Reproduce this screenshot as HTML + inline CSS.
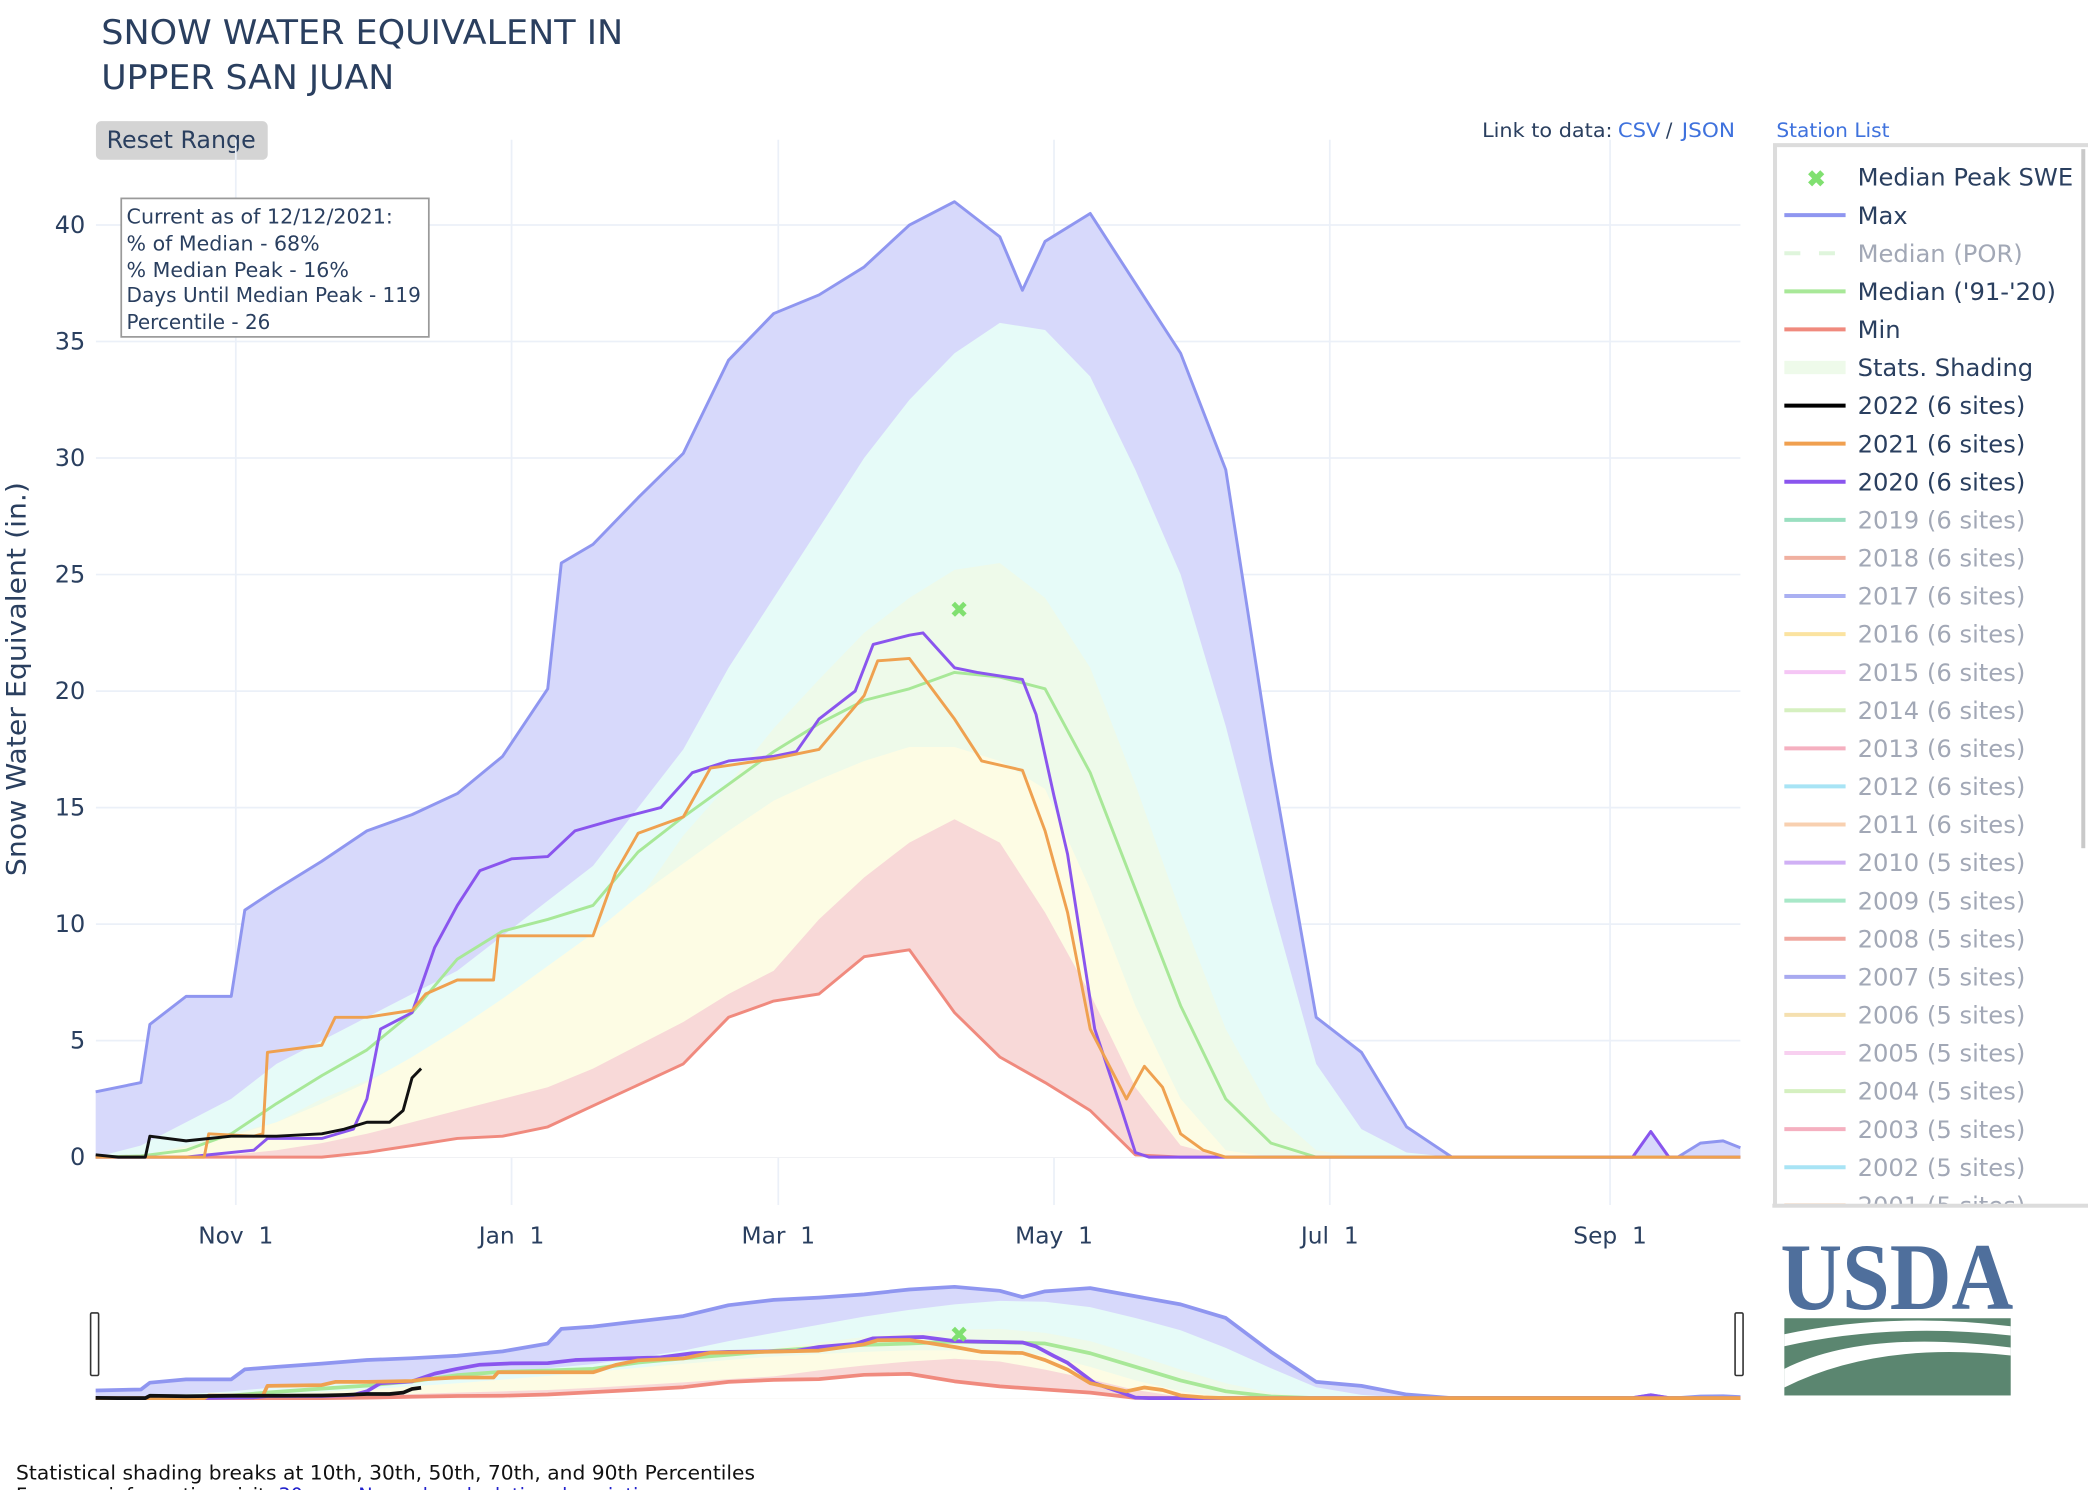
<!DOCTYPE html>
<html><head><meta charset="utf-8"><title>Snow Water Equivalent in Upper San Juan</title>
<style>
html,body{margin:0;padding:0;background:#fff;width:2088px;height:1490px;overflow:hidden}
svg{display:block}
.t{font-family:"DejaVu Sans","Liberation Sans",sans-serif;fill:#2a3f5f}
.lg{font-family:"DejaVu Sans","Liberation Sans",sans-serif;font-size:18.2px}
</style></head><body>
<svg id="chart" width="2088" height="1490" viewBox="0 0 1568 1119" xmlns="http://www.w3.org/2000/svg">
<text class="t" x="76" y="33" font-size="25.5" font-family="Liberation Sans, sans-serif" textLength="392" lengthAdjust="spacingAndGlyphs">SNOW WATER EQUIVALENT IN</text>
<text class="t" x="76" y="67" font-size="25.5" textLength="220" lengthAdjust="spacingAndGlyphs">UPPER SAN JUAN</text>
<g>
<rect x="72" y="91" width="129" height="29" rx="4" fill="#d4d4d4"/>
<text class="t" x="80" y="111" font-size="18" textLength="112" lengthAdjust="spacingAndGlyphs">Reset Range</text>
</g>
<text class="t" x="1113" y="103" font-size="14.5" textLength="98" lengthAdjust="spacingAndGlyphs">Link to data:</text>
<text x="1215" y="103" font-size="14.5" fill="#3f72dd" font-family="DejaVu Sans,sans-serif" textLength="32" lengthAdjust="spacingAndGlyphs">CSV</text>
<text class="t" x="1251" y="103" font-size="14.5">/</text>
<text x="1263" y="103" font-size="14.5" fill="#3f72dd" font-family="DejaVu Sans,sans-serif" textLength="40" lengthAdjust="spacingAndGlyphs">JSON</text>
<text x="1334" y="103" font-size="14.5" fill="#3f72dd" font-family="DejaVu Sans,sans-serif" textLength="85" lengthAdjust="spacingAndGlyphs">Station List</text>
<g id="grid"></g>
<g id="plot"></g>
<g id="axes"></g>
<g id="mini"></g>
<g>
<rect x="91" y="149" width="231" height="104" fill="#fff" stroke="#9a9a9a" stroke-width="1.3"/>
<text class="t" x="95" y="168" font-size="15" textLength="200" lengthAdjust="spacingAndGlyphs">Current as of 12/12/2021:</text>
<text class="t" x="95" y="188" font-size="15" textLength="145" lengthAdjust="spacingAndGlyphs">% of Median - 68%</text>
<text class="t" x="95" y="208" font-size="15" textLength="167" lengthAdjust="spacingAndGlyphs">% Median Peak - 16%</text>
<text class="t" x="95" y="227" font-size="15" textLength="221" lengthAdjust="spacingAndGlyphs">Days Until Median Peak - 119</text>
<text class="t" x="95" y="247" font-size="15" textLength="108" lengthAdjust="spacingAndGlyphs">Percentile - 26</text>
</g>
<text class="t" font-size="20" transform="translate(19,510) rotate(-90)" text-anchor="middle" textLength="296" lengthAdjust="spacingAndGlyphs">Snow Water Equivalent (in.)</text>
<g id="legend">
<rect x="1333" y="109" width="240" height="798" fill="#fff" stroke="#dcdcdc" stroke-width="3"/>
<rect x="1563" y="112" width="3" height="525" fill="#c9c9c9"/>
</g>
<g>
<text x="1337" y="983" font-family="Liberation Serif, serif" font-size="72" fill="#4f6f9c" font-weight="bold" textLength="175" lengthAdjust="spacingAndGlyphs">USDA</text>
<rect x="1340" y="990" width="170" height="58" fill="#5b8670"/>
<path d="M1340 1002 Q1420 985 1510 996 L1510 1003 Q1420 993 1340 1011 Z" fill="#fff"/>
<path d="M1340 1028 Q1400 998 1510 1012 L1510 1018 Q1410 1007 1340 1042 Z" fill="#fff"/>
</g>
<text x="12" y="1111" font-size="14.5" fill="#111" font-family="DejaVu Sans,sans-serif" textLength="555" lengthAdjust="spacingAndGlyphs">Statistical shading breaks at 10th, 30th, 50th, 70th, and 90th Percentiles</text>
<text x="12" y="1128" font-size="14.5" fill="#111" font-family="DejaVu Sans,sans-serif">For more information visit: <tspan fill="#2222cc">30 year Normals calculation description</tspan></text>
</svg>
<script>
// ---- data (day of water year from Oct 1, SWE inches) ----
const monthLabels = ["Nov 1","Jan 1","Mar 1","May 1","Jul 1","Sep 1"];
const monthDays = [31,92,151,212,273,335];
const yTicks = [0,5,10,15,20,25,30,35,40];
const bandDays = [0,10,20,30,40,50,60,70,80,90,100,110,120,130,140,150,160,170,180,190,200,210,220,230,240,250,260,270,280,290,300];
const p10 = [0,0,0.05,0.1,0.3,0.6,1.0,1.5,2.0,2.5,3.0,3.8,4.8,5.8,7.0,8.0,10.2,12.0,13.5,14.5,13.5,10.5,7.0,3.0,0.5,0,0,0,0,0,0];
const p30 = [0,0.1,0.4,0.9,1.5,2.3,3.2,4.3,5.5,6.8,8.2,9.6,11.2,12.6,14.0,15.3,16.2,17.0,17.6,17.6,17.0,15.8,11.5,6.5,2.5,0.3,0,0,0,0,0];
const p70 = [0,0.05,0.5,1.0,1.5,2.5,3.3,4.2,5.3,6.7,8.0,9.5,11.0,13.8,16.0,18.4,20.5,22.5,24.0,25.2,25.5,24.0,21.0,16.0,10.5,5.5,2.0,0.3,0,0,0];
const p90 = [0,0.5,1.5,2.5,4.0,5.0,6.0,7.0,8.0,9.5,11.0,12.5,15.0,17.5,21.0,24.0,27.0,30.0,32.5,34.5,35.8,35.5,33.5,29.5,25.0,18.5,11.0,4.0,1.2,0.2,0];
const medianVals = [0,0.05,0.3,1.0,2.3,3.5,4.6,6.2,8.5,9.7,10.2,10.8,13.1,14.6,16.0,17.4,18.6,19.6,20.1,20.8,20.6,20.1,16.5,11.5,6.5,2.5,0.6,0,0,0,0];
const minVals = [0,0,0,0,0,0,0.2,0.5,0.8,0.9,1.3,2.2,3.1,4.0,6.0,6.7,7.0,8.6,8.9,6.2,4.3,3.2,2.0,0.1,0,0,0,0,0,0,0];
const maxDays = [0,10,12,20,30,33,40,50,60,70,80,90,100,103,110,120,130,140,150,160,170,180,190,200,205,210,220,230,240,250,260,270,280,290,300,340,344,348,350,355,360,364];
const maxVals = [2.8,3.2,5.7,6.9,6.9,10.6,11.5,12.7,14.0,14.7,15.6,17.2,20.1,25.5,26.3,28.3,30.2,34.2,36.2,37.0,38.2,40.0,41.0,39.5,37.2,39.3,40.5,37.5,34.5,29.5,17.0,6.0,4.5,1.3,0,0,1.1,0,0,0.6,0.7,0.4];
const y2021Days = [0,24,25,35,37,38,50,53,60,70,73,80,88,89,110,115,120,130,136,150,160,170,173,180,190,196,205,210,215,220,228,232,236,240,245,250,364];
const y2021Vals = [0,0,1.0,0.9,1.0,4.5,4.8,6.0,6.0,6.3,7.0,7.6,7.6,9.5,9.5,12.2,13.9,14.6,16.7,17.1,17.5,19.8,21.3,21.4,18.8,17.0,16.6,14.0,10.5,5.5,2.5,3.9,3.0,1.0,0.3,0,0];
const y2020Days = [0,20,35,38,50,57,60,63,70,75,80,85,92,100,106,115,125,132,140,150,155,160,168,172,180,183,190,195,205,208,212,215,221,227,230,233,340,344,348,364];
const y2020Vals = [0,0,0.3,0.8,0.8,1.2,2.5,5.5,6.2,9.0,10.8,12.3,12.8,12.9,14.0,14.5,15.0,16.5,17.0,17.2,17.4,18.8,20.0,22.0,22.4,22.5,21.0,20.8,20.5,19.0,15.5,13.0,5.5,2.0,0.2,0,0,1.1,0,0];
const y2022Days = [0,5,11,12,20,30,40,50,55,60,65,68,70,72];
const y2022Vals = [0.1,0,0,0.9,0.7,0.9,0.9,1.0,1.2,1.5,1.5,2.0,3.4,3.8];
const peakDay = [191];
const peakVal = [23.5];
const legendNames = ["Median Peak SWE","Max","Median (POR)","Median ('91-'20)","Min","Stats. Shading","2022 (6 sites)","2021 (6 sites)","2020 (6 sites)","2019 (6 sites)","2018 (6 sites)","2017 (6 sites)","2016 (6 sites)","2015 (6 sites)","2014 (6 sites)","2013 (6 sites)","2012 (6 sites)","2011 (6 sites)","2010 (5 sites)","2009 (5 sites)","2008 (5 sites)","2007 (5 sites)","2006 (5 sites)","2005 (5 sites)","2004 (5 sites)","2003 (5 sites)","2002 (5 sites)","2001 (5 sites)"];

// ---- styles ----
const legendColors = ["#8ee07a","#8f96f0","#dff5dc","#a8e898","#f08a7e","#eefaea","#000","#f0a050","#8a55ee","#9adfc0","#f0b0a0","#aab0f2","#fbe3a0","#f5c6f5","#d6f0c0","#f5b0c0","#a8e4f5","#f8d0b0","#d0b0f5","#a8e8c8","#f0a8a0","#a8aaf0","#f5e0b0","#f8d0f0","#d5f0c0","#f5b0c0","#a8e4f5","#f8d0b0"];
const NS="http://www.w3.org/2000/svg";
const X=d=>71.8+d*3.395, Y=v=>869-v*17.5;
const Ym=v=>1050-v*2.04;
function el(tag,attrs,parent){const e=document.createElementNS(NS,tag);for(const k in attrs)e.setAttribute(k,attrs[k]);parent.appendChild(e);return e;}
function pts(days,vals,xf,yf){return days.map((d,i)=>Math.min(1307,xf(d)).toFixed(1)+","+yf(vals[i]).toFixed(1)).join(" ");}
function area(days,vals,xf,yf,fill,parent,name){
  const p=el("polygon",{points:xf(days[0])+","+yf(0)+" "+pts(days,vals,xf,yf)+" "+Math.min(1307,xf(days[days.length-1]))+","+yf(0),fill:fill},parent);
  
  
}
function line(days,vals,xf,yf,color,w,parent,name){
  const p=el("polyline",{points:pts(days,vals,xf,yf),fill:"none",stroke:color,"stroke-width":w,"stroke-linejoin":"round"},parent);
  
  
}
const ext=(a,v)=>a.concat([v]);
const grid=document.getElementById("grid"), plot=document.getElementById("plot"), axes=document.getElementById("axes"), mini=document.getElementById("mini"), legend=document.getElementById("legend");

yTicks.forEach(t=>{
  const g=el("line",{x1:72,x2:1307,y1:Y(t),y2:Y(t),stroke:"#ebf0f8","stroke-width":1.3},grid);
  
  
  const tx=el("text",{x:64,y:Y(t)+6,"text-anchor":"end","font-size":18,class:"t"},axes);
  tx.textContent=t;
  
  
});
monthDays.forEach((d,i)=>{
  const g=el("line",{x1:X(d),x2:X(d),y1:105,y2:905,stroke:"#ebf0f8","stroke-width":1.3},grid);
  
  
  const tx=el("text",{x:X(d),y:934,"text-anchor":"middle","font-size":17.5,class:"t"},axes);
  tx.textContent=monthLabels[i].replace(" ","\u00a0\u00a0");
  
  
});

function drawAll(parent,yf,lw,pre){
  area(maxDays,maxVals,X,yf,"#d7d9fb",parent,pre+"band-max");
  area(bandDays,p90,X,yf,"#e6fbf8",parent,pre+"band-90");
  area(bandDays,p70,X,yf,"#eefaea",parent,pre+"band-70");
  area(bandDays,p30,X,yf,"#fdfce4",parent,pre+"band-30");
  area(bandDays,p10,X,yf,"#f8d9d8",parent,pre+"band-10");
  area(bandDays,minVals,X,yf,"#ffffff",parent,pre+"band-min");
  line(maxDays,maxVals,X,yf,"#8f96f0",lw,parent,pre+"max-line");
  line(ext(bandDays,364),ext(minVals,0),X,yf,"#f08a7e",lw,parent,pre+"min-line");
  line(ext(bandDays,364),ext(medianVals,0),X,yf,"#a8e898",lw,parent,pre+"median-line");
  line(y2020Days,y2020Vals,X,yf,"#8a55ee",lw,parent,pre+"line-2020");
  line(y2021Days,y2021Vals,X,yf,"#efa150",lw,parent,pre+"line-2021");
  line(y2022Days,y2022Vals,X,yf,"#111",lw,parent,pre+"line-2022");
  peakDay.forEach((d,i)=>{
    const m=el("text",{x:X(d),y:yf(peakVal[i])+6,"text-anchor":"middle","font-size":17,fill:"#80e070","font-weight":"bold","font-family":"DejaVu Sans,sans-serif"},parent);
    m.textContent="✖";
    
    
  });
}
drawAll(plot,Y,2.2,"");
drawAll(mini,Ym,2.8,"mini-");
[[68],[1303]].forEach(([x])=>{
  const h=el("rect",{x:x,y:986,width:6,height:47,fill:"#fff",stroke:"#333","stroke-width":1.2,rx:1},mini);
  
  
});

legendNames.forEach((n,i)=>{
  const y=133+i*28.6; if(y>915) return;
  const g=el("g",{},legend);
  
  
  const active=i<2||i===3||i===4||i===5||i===6||i===7||i===8;
  if(i===0){const m=el("text",{x:1364,y:y+7,"text-anchor":"middle","font-size":17,fill:"#80e070","font-weight":"bold"},g);m.textContent="✖";}
  else if(i===5){el("rect",{x:1340,y:y-5,width:46,height:10,fill:"#eefaea"},g);}
  else if(i===2){el("line",{x1:1340,x2:1386,y1:y,y2:y,stroke:"#dff5dc","stroke-width":3,"stroke-dasharray":"12,14"},g);}
  else el("line",{x1:1340,x2:1386,y1:y,y2:y,stroke:legendColors[i],"stroke-width":3},g);
  const t=el("text",{x:1395,y:y+6.5,class:"lg",fill:active?"#2a3f5f":"#a2a8b6"},g);
  t.textContent=n;
});
const clip=el("rect",{x:1331,y:906,width:240,height:20,fill:"#fff"},legend);


el("rect",{x:1331,y:904,width:240,height:3,fill:"#dcdcdc"},legend);
</script>
</body></html>
